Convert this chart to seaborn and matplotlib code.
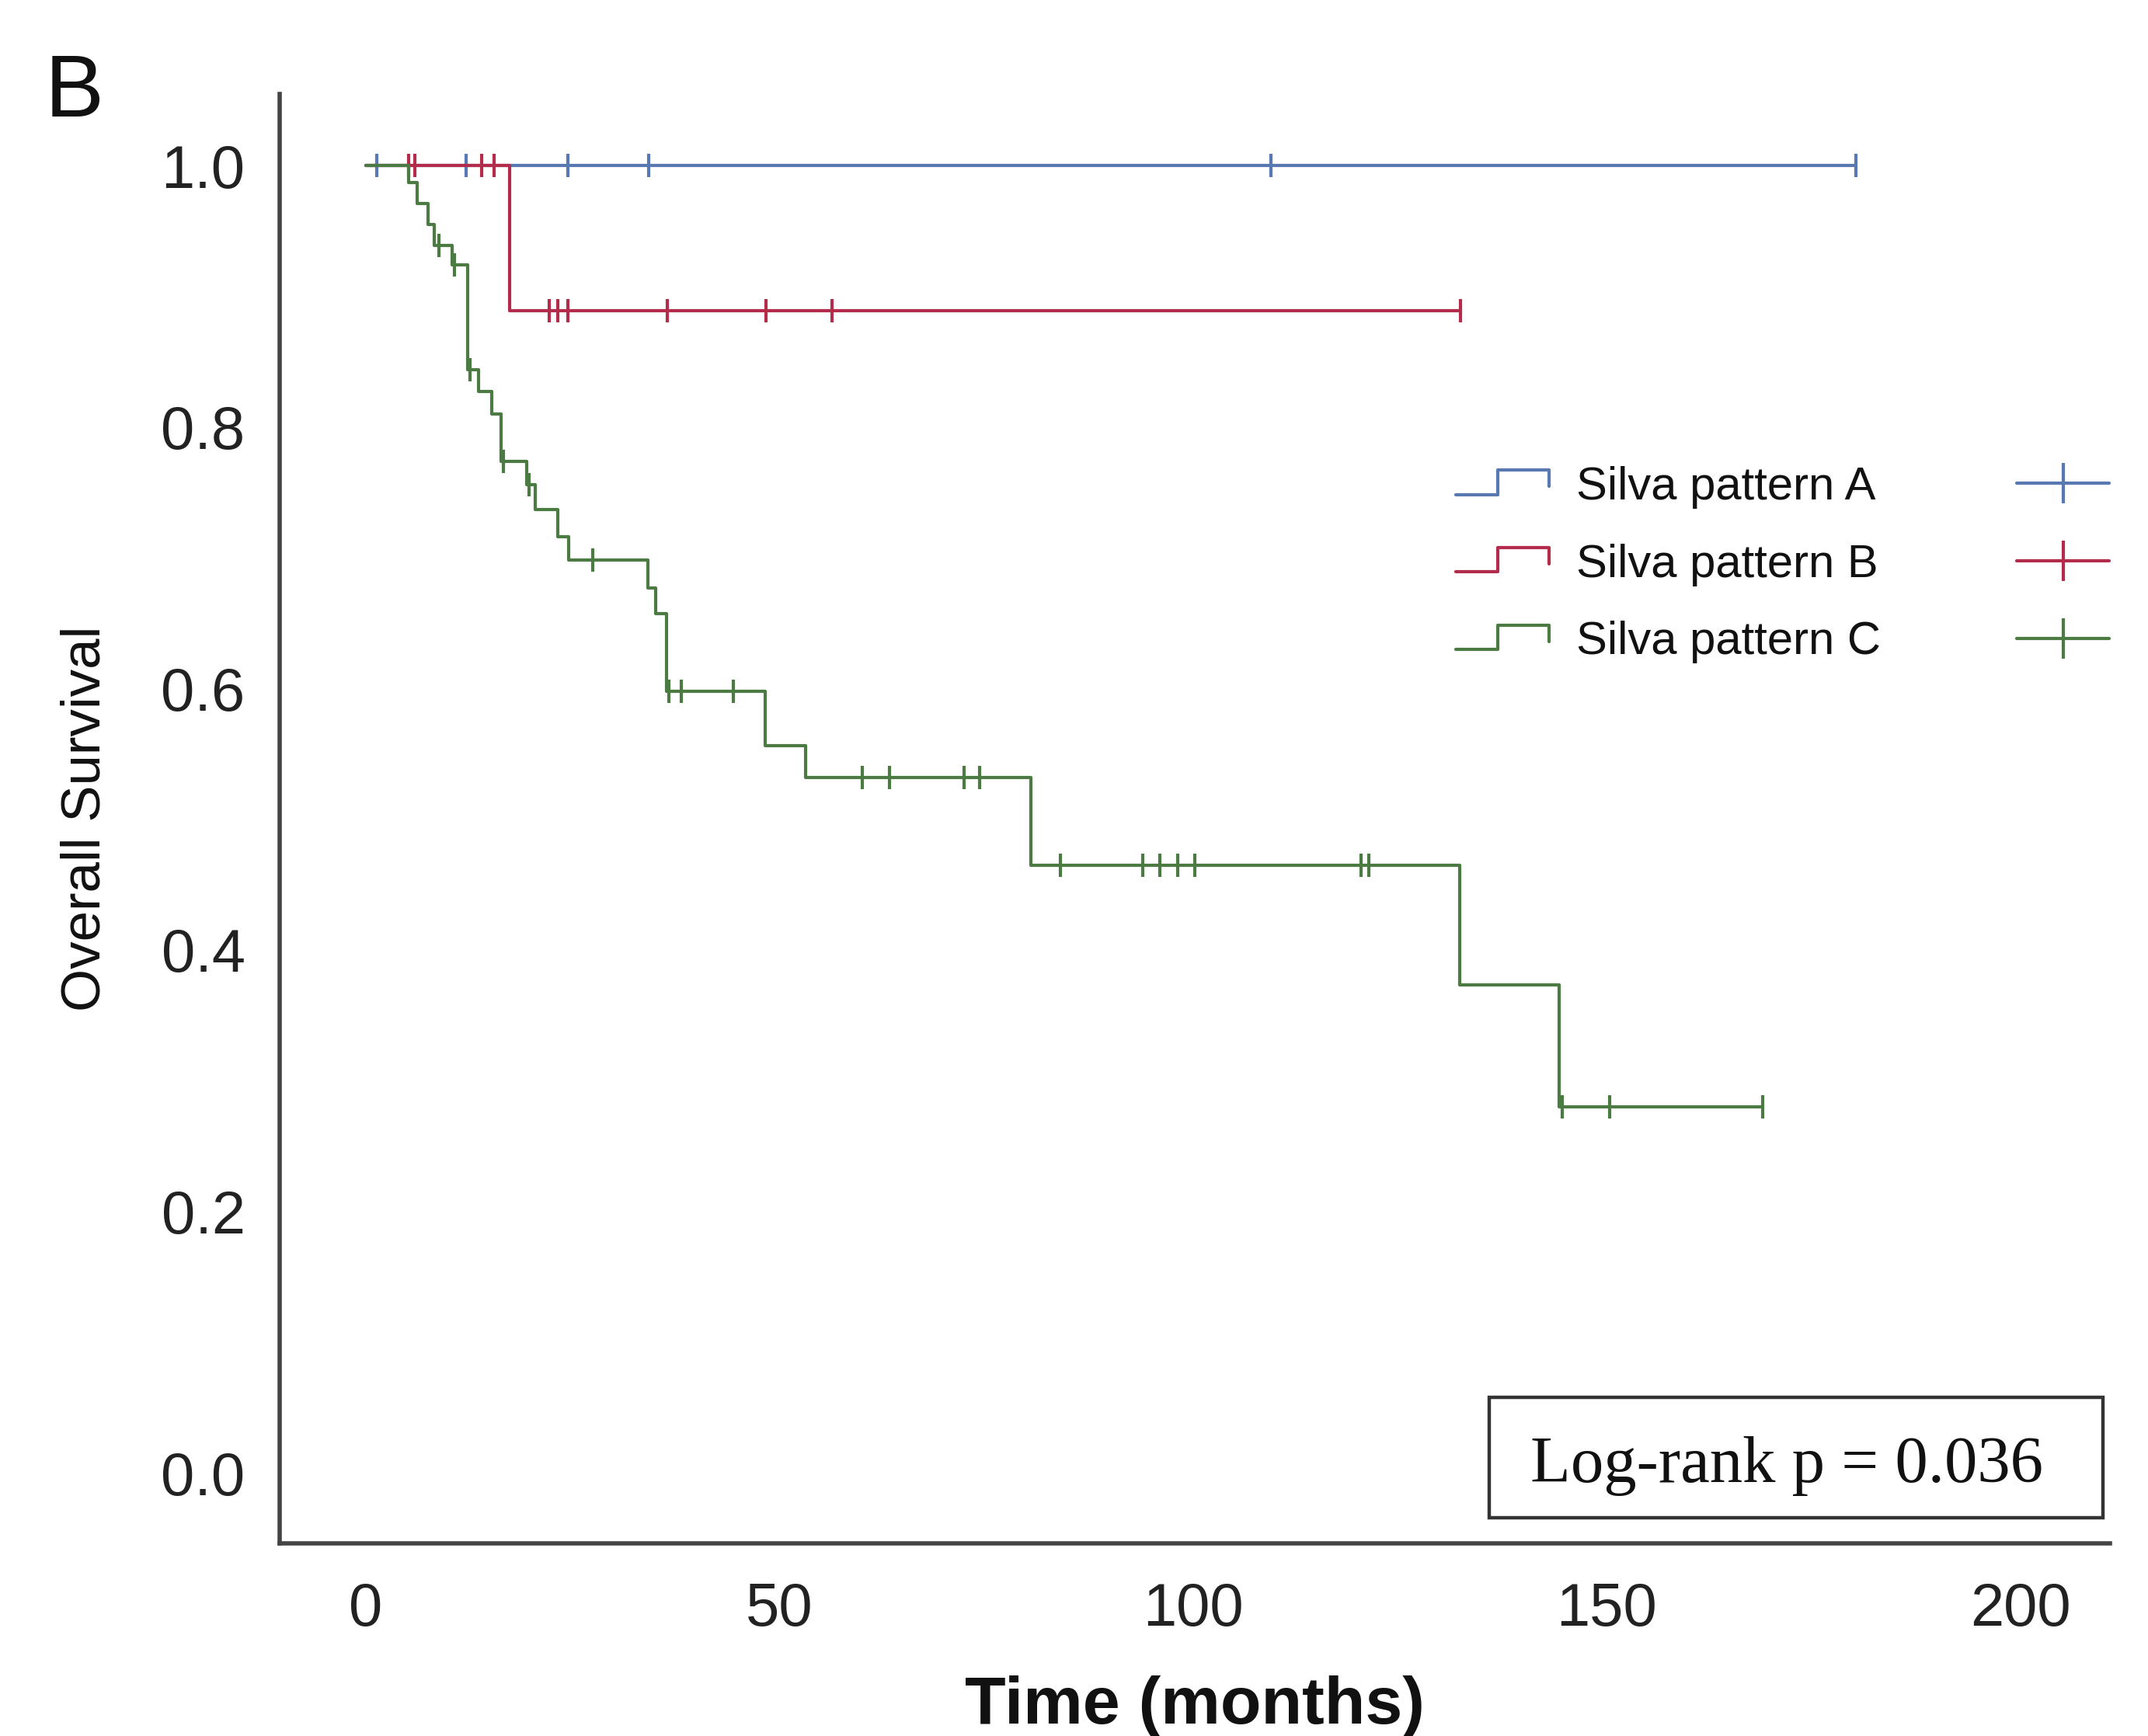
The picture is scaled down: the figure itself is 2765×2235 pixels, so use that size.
import numpy as np
import pandas as pd
import matplotlib
matplotlib.use("Agg")
import matplotlib.pyplot as plt
import seaborn as sns
from matplotlib.lines import Line2D
from matplotlib.patches import Rectangle
from matplotlib.legend_handler import HandlerBase

# ---------------- data ----------------
group_labels = ["Silva pattern A", "Silva pattern B", "Silva pattern C"]

# Kaplan-Meier step functions: event times and survival after each step
a_times = [0.0]
a_surv = [1.0]
a_end = 180.1
a_censor = [1.3, 12.1, 24.4, 34.2, 109.4, 180.1]

b_times = [0.0, 17.4]
b_surv = [1.0, 0.889]
b_end = 132.3
b_censor = [5.2, 5.9, 14.0, 15.5, 22.2, 23.2, 24.4, 36.4, 48.4, 56.3, 132.3]

c_times = [0.0, 5.2, 6.2, 7.5, 8.3, 10.4, 12.3, 13.6, 15.2, 16.3, 19.4, 20.5,
           23.2, 24.5, 34.1, 35.0, 36.3, 48.3, 53.2, 80.4, 132.2, 144.2]
c_surv = [1.0, 0.987, 0.971, 0.955, 0.939, 0.924, 0.844, 0.827, 0.810, 0.774,
          0.756, 0.737, 0.716, 0.698, 0.677, 0.657, 0.598, 0.556, 0.532, 0.465,
          0.373, 0.280]
c_end = 168.8
c_censor = [8.8, 10.7, 12.6, 16.6, 19.7, 27.4, 36.6, 38.1, 44.4, 60.0, 63.3,
            72.3, 74.2, 84.0, 93.9, 96.0, 98.1, 100.2, 120.3, 121.2, 144.6,
            150.3, 168.8]

x_ticks = [0, 50, 100, 150, 200]
y_ticks = [0.0, 0.2, 0.4, 0.6, 0.8, 1.0]
p_text = "Log-rank p = 0.036"

colors = ["#5878b2", "#b42c4c", "#4b7b42"]

# ---------------- style ----------------
sns.set_style("white")
plt.rcParams["font.family"] = ["Liberation Sans", "DejaVu Sans"]

fig = plt.figure(figsize=(27.65, 22.35), dpi=100)
ax = fig.add_axes([0.1302, 0.111, 0.852, 0.835])

groups = [
    (a_times, a_surv, a_end, a_censor),
    (b_times, b_surv, b_end, b_censor),
    (c_times, c_surv, c_end, c_censor),
]

LW = 3.0
for (times, surv, end, cens), col, lab in zip(groups, colors, group_labels):
    t = list(times) + [end]
    s = list(surv) + [surv[-1]]
    df = pd.DataFrame({"t": t, "s": s})
    sns.lineplot(data=df, x="t", y="s", drawstyle="steps-post", color=col,
                 lw=LW, ax=ax, estimator=None, sort=False)
    tt = np.asarray(times)
    ss = np.asarray(surv)
    idx = np.searchsorted(tt, np.asarray(cens), side="right") - 1
    ax.plot(cens, ss[idx], ls="none", marker="|", ms=22, mew=3.0, color=col)

ax.set_xlim(-10.42, 210.8)
ax.set_ylim(-0.054, 1.055)
ax.set_xticks(x_ticks)
ax.set_xticklabels([str(v) for v in x_ticks])
ax.set_yticks(y_ticks)
ax.set_yticklabels([f"{v:.1f}" for v in y_ticks])
ax.tick_params(axis="both", length=0, labelsize=56, colors="#222222")
ax.tick_params(axis="y", pad=32)
ax.tick_params(axis="x", pad=35)

for side in ["top", "right"]:
    ax.spines[side].set_visible(False)
for side in ["left", "bottom"]:
    ax.spines[side].set_color("#444444")
    ax.spines[side].set_linewidth(4)

ax.set_ylabel("Overall Survival", fontsize=51, color="#111111")
ax.yaxis.set_label_coords(-0.0918, 0.5)
ax.set_xlabel("Time (months)", fontsize=62, fontweight="bold", color="#111111")
ax.xaxis.set_label_coords(0.5, -0.091)
ax.xaxis.label.set_va("top")

# panel letter
fig.text(58 / 2765, 0.9329, "B", fontsize=82, ha="left", va="baseline", color="#111111")

# log-rank box
ax.add_patch(Rectangle((0.661, 0.0177), 0.3353, 0.0831, transform=ax.transAxes,
                       fill=False, edgecolor="#333333", lw=3.2, clip_on=False))
ax.text(0.6834, 0.0423, p_text, transform=ax.transAxes, ha="left", va="baseline",
        fontsize=61, family=["Liberation Serif", "DejaVu Serif"], color="#111111")


# legend with step icons and cross icons
class StepHandler(HandlerBase):
    def create_artists(self, legend, orig_handle, xdescent, ydescent, width,
                       height, fontsize, trans):
        x0 = -xdescent
        y0 = -ydescent
        xs = [x0, x0 + 0.45 * width, x0 + 0.45 * width, x0 + width, x0 + width]
        ys = [y0 + 0.15 * height, y0 + 0.15 * height, y0 + 0.9 * height,
              y0 + 0.9 * height, y0 + 0.4 * height]
        ln = Line2D(xs, ys, color=orig_handle.get_color(),
                    lw=orig_handle.get_linewidth())
        ln.set_transform(trans)
        return [ln]


step_handles = [Line2D([], [], color=c, lw=LW) for c in colors]
cross_handles = [Line2D([], [], color=c, lw=LW, marker="|", ms=38, mew=3.0)
                 for c in colors]
handler_map = {h: StepHandler() for h in step_handles}
leg = ax.legend(step_handles + cross_handles, group_labels + ["", "", ""],
                ncol=2, handler_map=handler_map, frameon=False,
                loc="upper left", bbox_to_anchor=(0.6778, 0.7316),
                bbox_transform=fig.transFigure, borderpad=0, borderaxespad=0,
                fontsize=43, handlelength=2.0, handletextpad=0.6,
                columnspacing=2.92, labelspacing=0.75, numpoints=1)
for txt in leg.get_texts():
    txt.set_color("#111111")

fig.savefig("out.png", dpi=100)
